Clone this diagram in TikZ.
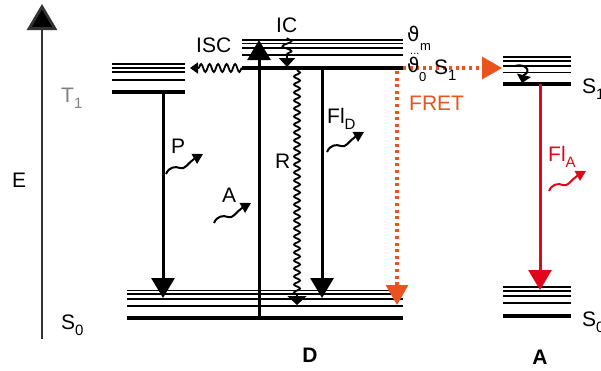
\documentclass[tikz,border=0pt]{standalone}
\usepackage{fontspec}
\setmainfont{Liberation Sans}
\newfontfamily\djv{DejaVu Sans}
\usetikzlibrary{arrows.meta,decorations.pathmorphing}
\definecolor{fretc}{RGB}{234,82,30}
\definecolor{redc}{RGB}{226,6,26}
\definecolor{greyc}{RGB}{128,128,128}
\definecolor{axisc}{RGB}{50,50,50}
\newcommand\lowsub[1]{\raisebox{-6pt}{\fontsize{15}{15}\selectfont #1}}
\begin{document}
\begin{tikzpicture}[x=1pt,y=-1pt,
  lbl/.style={font=\fontsize{21}{24}\selectfont, inner sep=0pt},
  bold/.style={font=\fontsize{21}{24}\selectfont\bfseries, inner sep=0pt},
  thinlvl/.style={line width=1.6pt},
  thicklvl/.style={line width=3.2pt},
  varrow/.style={line width=3pt, -{Triangle[length=20pt,width=23pt]}},
  wavy/.style={line width=1.8pt, decorate},
  fretline/.style={fretc, line width=3.2pt, dash pattern=on 3pt off 3.6pt, -{Triangle[length=20pt,width=22pt]}},
  photon/.pic={\draw[line width=2pt,-{Triangle[length=10pt,width=11pt]}] (0,0) .. controls (3,-7) and (9,-8) .. (14,-6) .. controls (19,-4) and (22,-11) .. (28,-15) -- (37,-20);}
]
\useasboundingbox (0,0) rectangle (601,370);

% ---- coordinates
\coordinate (Ebot) at (42,339); \coordinate (Etop) at (42,4);
\coordinate (T1P) at (163,92); \coordinate (S0P) at (163,298);
\coordinate (S1L) at (242,68); \coordinate (ISCend) at (190,68);
\coordinate (Aabs0) at (259,318); \coordinate (Aabs1) at (259,40);
\coordinate (IC0) at (287,38); \coordinate (IC1) at (287,67);
\coordinate (R0) at (297,70); \coordinate (R1) at (297,305);
\coordinate (F0) at (322,68); \coordinate (F1) at (322,298);
\coordinate (FR0) at (403,68); \coordinate (FR1) at (502,68);
\coordinate (FV0) at (397,71); \coordinate (FV1) at (397,305);
\coordinate (AS1) at (540,84); \coordinate (AS0) at (540,290);
\coordinate (C0) at (515,66); \coordinate (C1) at (522,83);

% ---- energy axis
\draw[axisc, line width=2.8pt, -{Triangle[length=26pt,width=30pt,fill=black]}] (Ebot) -- (Etop);

% ---- levels
\foreach \y in {64,68,72,80} \draw[thinlvl] (112,\y) -- (185,\y);
\draw[thicklvl] (112,92) -- (185,92);
\foreach \y in {40,43.5,48,55} \draw[thinlvl] (242,\y) -- (403,\y);
\draw[thicklvl] (242,68) -- (403,68);
\foreach \y in {290.5,294,299,306} \draw[thinlvl] (127,\y) -- (403,\y);
\draw[thicklvl] (127,318) -- (403,318);
\foreach \y in {57,61,66,72.5} \draw[thinlvl] (503,\y) -- (571,\y);
\draw[thicklvl] (503,84) -- (571,84);
\foreach \y in {287,291,296,303} \draw[thinlvl] (503,\y) -- (571,\y);
\draw[thicklvl] (503,316) -- (571,316);

% ---- transitions
\draw[varrow] (T1P) -- (S0P);
\draw[varrow] (Aabs0) -- (Aabs1);
\draw[varrow] (F0) -- (F1);
\draw[varrow, redc] (AS1) -- (AS0);
\draw[wavy, decoration={snake, amplitude=4pt, segment length=8.5pt, post length=7pt}, -{Triangle[length=8pt,width=11pt]}] (S1L) -- (ISCend);
\draw[wavy, decoration={snake, amplitude=4.5pt, segment length=10pt, post length=8pt}, -{Triangle[length=9pt,width=16pt]}] (IC0) -- (IC1);
\draw[wavy, decoration={snake, amplitude=3pt, segment length=8pt, post length=8pt}, -{Triangle[length=9pt,width=19pt]}] (R0) -- (R1);
\draw[fretline] (FR0) -- (FR1);
\draw[fretline] (FV0) -- (FV1);
\draw[line width=2pt, -{Triangle[length=8pt,width=14pt]}] (C0) .. controls (525,63) and (532,71) .. (524,75) -- (C1);

% ---- photons
\pic at (166,174) {photon};
\pic at (214,223) {photon};
\pic at (327,152) {photon};
\pic[color=redc] at (549,191) {photon};

% ---- labels
\node[lbl, anchor=base west] (lE) at (12,187) {E};
\node[lbl, anchor=base west, text=greyc] (lT1) at (61,102) {T\lowsub{1}};
\node[lbl, anchor=base west] (lS0) at (61,329) {S\lowsub{0}};
\node[lbl, anchor=base west] (lISC) at (196,52) {ISC};
\node[lbl, anchor=base west] (lIC) at (276,32) {IC};
\node[lbl, anchor=base west] (lP) at (171,153) {P};
\node[lbl, anchor=base west] (lR) at (275,168) {R};
\node[lbl, anchor=base west] (lA) at (222,202) {A};
\node[lbl, anchor=base west] (lFD) at (327,123) {Fl\lowsub{D}};
\node[lbl, anchor=base west, text=redc] (lFA) at (548,161) {Fl\lowsub{A}};
\node[lbl, anchor=base west, text=fretc] (lFRET) at (409,110) {FRET};
\node[font=\djv\fontsize{20}{20}\selectfont, inner sep=0pt, anchor=base west] (th1) at (407,41) {ϑ};
\node[font=\fontsize{13}{13}\selectfont, inner sep=0pt, anchor=base west] (thm) at (420,50) {m};
\node[font=\fontsize{11}{11}\selectfont, inner sep=0pt, anchor=base west] (dots) at (410,54) {...};
\node[font=\djv\fontsize{20}{20}\selectfont, inner sep=0pt, anchor=base west] (th0) at (407,72) {ϑ};
\node[font=\fontsize{13}{13}\selectfont, inner sep=0pt, anchor=base west] (th0s) at (419,81) {0};
\node[lbl, anchor=base west] (lS1) at (434,74) {S\lowsub{1}};
\node[lbl, anchor=base west] (lS1A) at (582,93) {S\lowsub{1}};
\node[lbl, anchor=base west] (lS0A) at (582,326) {S\lowsub{0}};
\node[bold] (lD) at (310,355) {D};
\node[bold] (lAA) at (540,357) {A};
\end{tikzpicture}
\end{document}
